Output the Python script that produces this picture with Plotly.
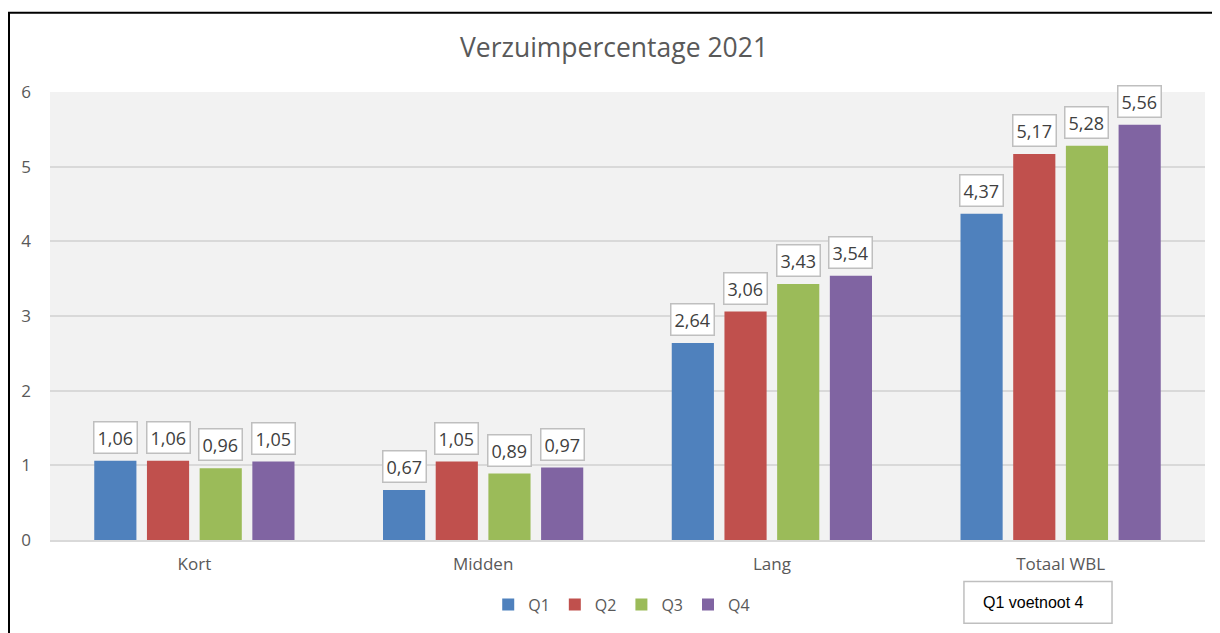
import plotly.graph_objects as go

categories = ["Kort", "Midden", "Lang", "Totaal WBL"]
series_names = ["Q1", "Q2", "Q3", "Q4"]
q1 = [1.06, 0.67, 2.64, 4.37]
q2 = [1.06, 1.05, 3.06, 5.17]
q3 = [0.96, 0.89, 3.43, 5.28]
q4 = [1.05, 0.97, 3.54, 5.56]
colors = ["#4f81bd", "#c0504d", "#9bbb59", "#8064a2"]
y_ticks = [0, 1, 2, 3, 4, 5, 6]

series = [q1, q2, q3, q4]
bargap = 0.27
n = len(series)

fig = go.Figure()
for name, vals, col in zip(series_names, series, colors):
    fig.add_trace(go.Bar(name=name, x=categories, y=vals, marker_color=col,
                         marker_line_width=0))

font_fam = "Open Sans, Noto Sans, sans-serif"
slot = (1 - bargap) / n
for si, vals in enumerate(series):
    off = -(1 - bargap) / 2 + slot * (si + 0.5)
    for ci, v in enumerate(vals):
        fig.add_annotation(x=ci + off, y=v, xref="x", yref="y",
                           text=f"{v:.2f}".replace(".", ","),
                           showarrow=False, yanchor="bottom", yshift=7,
                           bgcolor="white", bordercolor="#bfbfbf", borderwidth=1.5,
                           borderpad=3,
                           font=dict(family=font_fam, size=18, color="#404040"))

# footnote box
fig.add_shape(type="rect", xref="paper", yref="paper",
              x0=0.7913, x1=0.9195, y0=-0.1858, y1=-0.0929,
              fillcolor="white", line=dict(color="#bfbfbf", width=1.5))
fig.add_annotation(xref="paper", yref="paper", x=0.806, y=-0.1395, xanchor="left",
                   yanchor="middle", text="Q1 voetnoot 4", showarrow=False,
                   font=dict(family="Liberation Sans Narrow, Liberation Sans, sans-serif",
                             size=16, color="#000000"))

# outer chart border
fig.add_shape(type="path", xref="paper", yref="paper",
              path="M -0.0355,-0.3 L -0.0355,1.177 L 1.05,1.177",
              line=dict(color="#000000", width=2))

fig.update_layout(
    width=1212, height=625,
    margin=dict(l=42, r=15, t=84, b=89),
    paper_bgcolor="white", plot_bgcolor="#f2f2f2",
    barmode="group", bargap=bargap, bargroupgap=0.2,
    title=dict(text="Verzuimpercentage 2021", x=0.5, xref="container", y=0.936,
               yanchor="middle",
               font=dict(family=font_fam, size=26.5, color="#595959")),
    showlegend=True,
    legend=dict(orientation="h", x=0.495, xanchor="center", y=-0.1440, yanchor="middle",
                font=dict(family=font_fam, size=16, color="#595959"),
                itemwidth=30, tracegroupgap=0),
    xaxis=dict(showgrid=False, showline=True, linecolor="#d9d9d9", linewidth=2,
               ticks="", ticklabelstandoff=8,
               tickfont=dict(family=font_fam, size=17, color="#595959")),
    yaxis=dict(range=[0, 6], tickvals=y_ticks, showgrid=True, gridcolor="#d9d9d9",
               gridwidth=1.5, zeroline=False, ticks="", ticklabelstandoff=18,
               tickfont=dict(family=font_fam, size=17, color="#595959")),
)

fig.write_html("out.html")
